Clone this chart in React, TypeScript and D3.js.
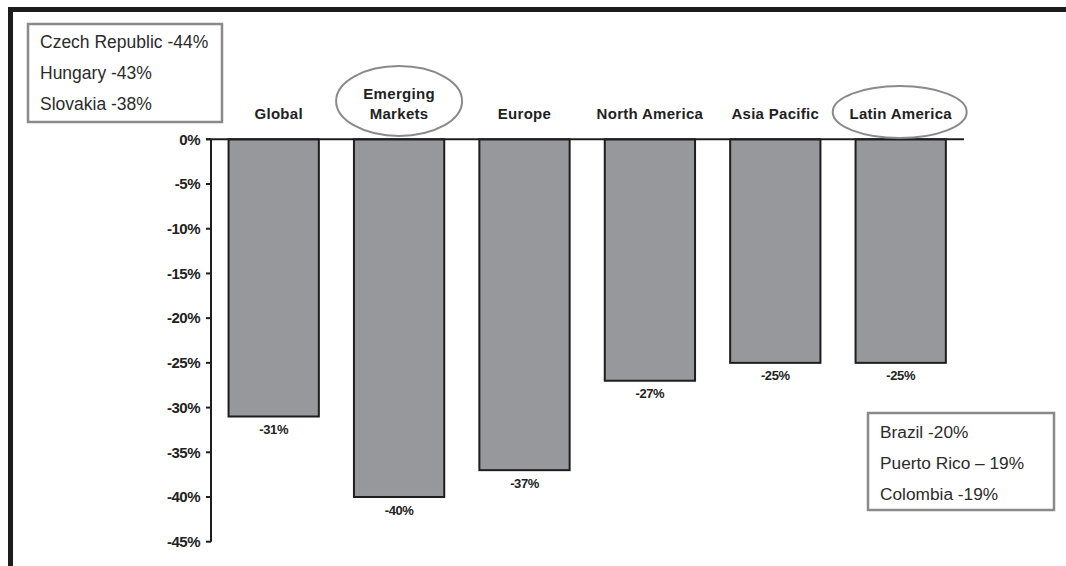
import React from "react";
import * as d3 from "d3";

const categories = ["Global", "Emerging Markets", "Europe", "North America", "Asia Pacific", "Latin America"];
const categoryLines = [["Global"], ["Emerging", "Markets"], ["Europe"], ["North America"], ["Asia Pacific"], ["Latin America"]];
const values = [-31, -40, -37, -27, -25, -25];
const valueLabels = ["-31%", "-40%", "-37%", "-27%", "-25%", "-25%"];
const yTicks = [0, -5, -10, -15, -20, -25, -30, -35, -40, -45];
const circled = ["Emerging Markets", "Latin America"];
const topLeftNotes = ["Czech Republic -44%", "Hungary -43%", "Slovakia -38%"];
const bottomRightNotes = ["Brazil -20%", "Puerto Rico \u2013 19%", "Colombia -19%"];

const W = 1066;
const H = 566;

export default function App() {
  const x = d3.scaleBand<string>().domain(categories).range([211, 963.4]).paddingInner(0.28).paddingOuter(0.14);
  const y = d3.scaleLinear().domain([0, -45]).range([139.3, 541.7]);
  const axisX = 211;
  const font = "'Liberation Sans', Arial, sans-serif";

  return (
    <svg width={W} height={H} style={{ position: "fixed", left: 0, top: 0, background: "#fff" }} fontFamily={font}>
      <rect x={0} y={0} width={W} height={H} fill="#fff" />
      {/* frame */}
      <rect x={8} y={7} width={W - 8} height={5} fill="#1c1c1c" />
      <rect x={8} y={7} width={5} height={H - 7} fill="#1c1c1c" />

      {/* bars */}
      {categories.map((c, i) => (
        <rect
          key={c}
          x={x(c)!}
          y={y(0)}
          width={x.bandwidth()}
          height={y(values[i]) - y(0)}
          fill="#97989b"
          stroke="#1e1e1e"
          strokeWidth={2}
        />
      ))}

      {/* zero line */}
      <line x1={axisX - 5} x2={964} y1={y(0)} y2={y(0)} stroke="#1e1e1e" strokeWidth={2} />
      {/* y axis */}
      <line x1={axisX} x2={axisX} y1={y(0)} y2={y(-45)} stroke="#1e1e1e" strokeWidth={2} />
      {yTicks.map((t) => (
        <g key={t}>
          <line x1={axisX - 5} x2={axisX} y1={y(t)} y2={y(t)} stroke="#1e1e1e" strokeWidth={2} />
          <text x={200} y={y(t)} dy="0.35em" textAnchor="end" fontSize={15} fontWeight="bold" fill="#222" letterSpacing={-0.5}>
            {t === 0 ? "0%" : `${t}%`}
          </text>
        </g>
      ))}

      {/* value labels */}
      {categories.map((c, i) => (
        <text
          key={c}
          x={x(c)! + x.bandwidth() / 2}
          y={y(values[i]) + 13}
          dy="0.35em"
          textAnchor="middle"
          fontSize={13}
          fontWeight="bold"
          fill="#222"
          letterSpacing={-0.4}
        >
          {valueLabels[i]}
        </text>
      ))}

      {/* category labels */}
      {categories.map((c, i) => {
        const lines = categoryLines[i];
        const cx = x(c)! + x.bandwidth() / 2 + (i === 0 ? 5 : 0);
        return (
          <text key={c} x={cx} textAnchor="middle" fontSize={15} fontWeight="bold" fill="#222" letterSpacing={0.3}>
            {lines.map((l, j) => (
              <tspan key={j} x={cx} y={114 - (lines.length - 1 - j) * 20} dy="0.35em">
                {l}
              </tspan>
            ))}
          </text>
        );
      })}

      {/* circled labels */}
      {circled.map((c) => {
        const cx = x(c)! + x.bandwidth() / 2;
        const two = categoryLines[categories.indexOf(c)].length > 1;
        return (
          <ellipse
            key={c}
            cx={cx + (two ? 0 : -1)}
            cy={two ? 101 : 112}
            rx={two ? 63 : 67}
            ry={two ? 35 : 26}
            fill="none"
            stroke="#8a8a8a"
            strokeWidth={2}
          />
        );
      })}

      {/* top-left note box */}
      <rect x={28} y={24} width={194} height={98} fill="#fff" stroke="#8a8a8a" strokeWidth={2.5} />
      {topLeftNotes.map((n, i) => (
        <text key={n} x={40} y={42 + i * 31} dy="0.35em" fontSize={17.5} fill="#2b2b2b">
          {n}
        </text>
      ))}

      {/* bottom-right note box */}
      <rect x={868} y={413} width={186} height={97} fill="#fff" stroke="#8a8a8a" strokeWidth={2.5} />
      {bottomRightNotes.map((n, i) => (
        <text key={n} x={880} y={432 + i * 31} dy="0.35em" fontSize={17.3} fill="#2b2b2b">
          {n}
        </text>
      ))}
    </svg>
  );
}
